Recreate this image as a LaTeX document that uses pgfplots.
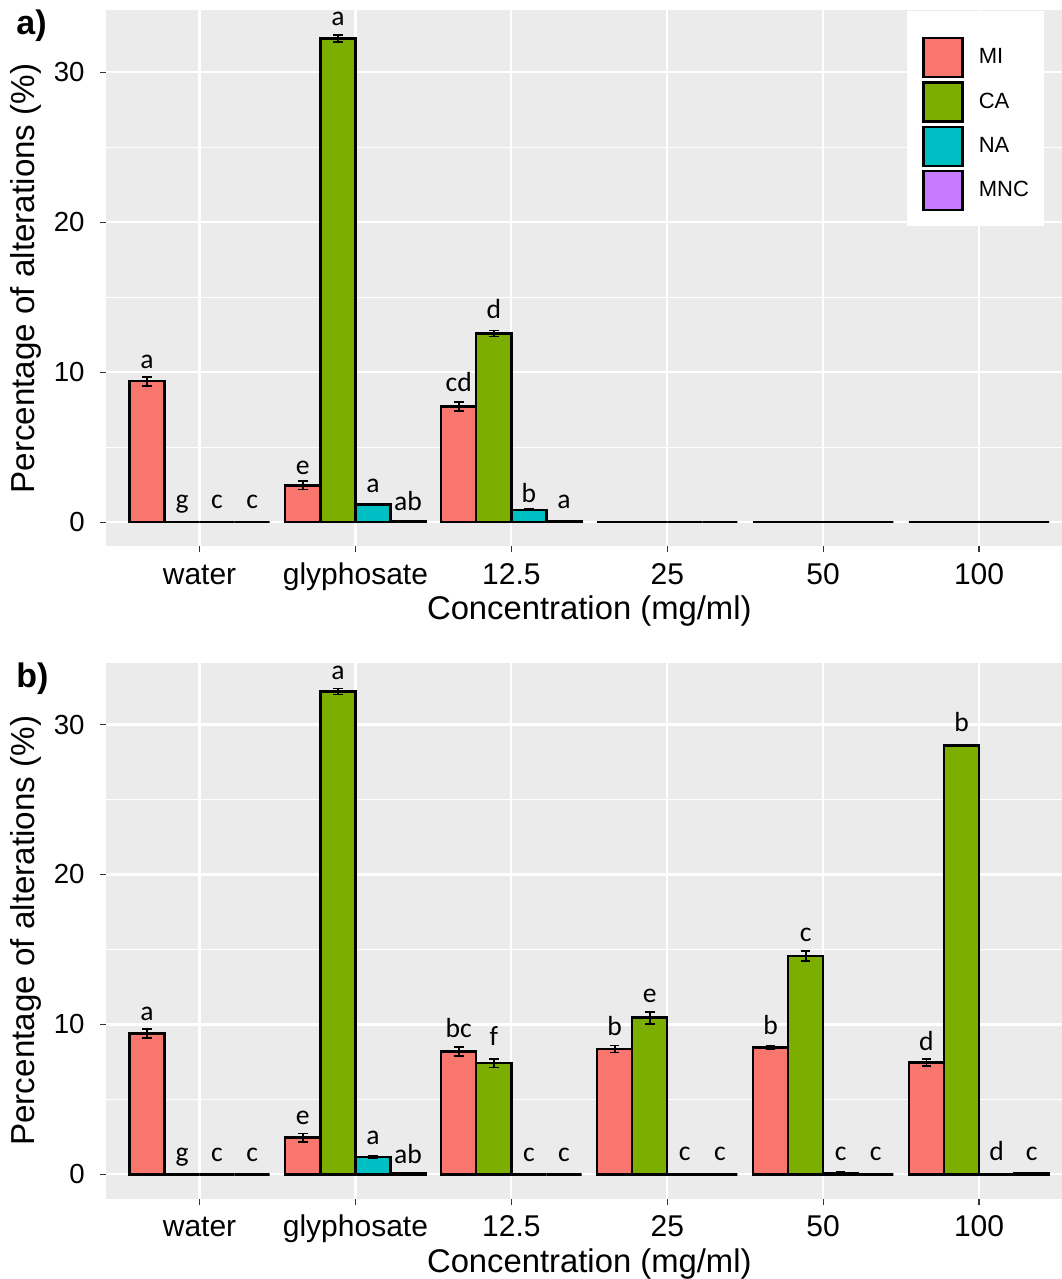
\documentclass[border=0pt]{standalone}
\usepackage{fontspec}
\setmainfont{Liberation Sans}
\newfontfamily\labfont{Carlito}
\usepackage{pgfplots}
\pgfplotsset{compat=1.18}
\usepackage{pgfplotstable}
\definecolor{cMI}{HTML}{F8766D}
\definecolor{cCA}{HTML}{7CAE00}
\definecolor{cNA}{HTML}{00BFC4}
\definecolor{cMNC}{HTML}{C77CFF}
\definecolor{panelbg}{HTML}{EBEBEB}

\pgfplotstableread{
x MI MIe CA CAe NA NAe MNC MNCe
1 9.40 0.30 0     0    0    0    0    0
2 2.45 0.28 32.25 0.22 1.17 0.06 0.06 0.04
3 7.72 0.30 12.58 0.20 0.82 0.04 0.06 0.03
4 0    0    0     0    0    0    0    0
5 0    0    0     0    0    0    0    0
6 0    0    0     0    0    0    0    0
}\dataA

\pgfplotstableread{
x MI MIe CA CAe NA NAe MNC MNCe
1 9.40 0.30 0     0    0    0    0    0
2 2.45 0.28 32.20 0.20 1.15 0.06 0.06 0.04
3 8.18 0.30 7.42  0.29 0    0    0    0
4 8.36 0.23 10.45 0.40 0.03 0.02 0    0
5 8.47 0.10 14.58 0.33 0.06 0.12 0    0
6 7.45 0.25 28.60 0.06 0    0    0.05 0.03
}\dataB

\pgfplotstableread{
x y lab
0.6625 10.26 a
0.8875 0.90 g
1.1125 0.90 c
1.3375 0.90 c
1.6625 3.20 e
1.8875 33.10 a
2.1125 2.00 a
2.3375 0.78 ab
2.6625 8.72 cd
2.8875 13.55 d
3.1125 1.32 b
3.3375 0.88 a
}\labA

\pgfplotstableread{
x y lab
0.6625 10.26 a
0.8875 0.85 g
1.1125 0.85 c
1.3375 0.85 c
1.6625 3.35 e
1.8875 33.00 a
2.1125 1.98 a
2.3375 0.75 ab
2.6625 9.13 bc
2.8875 8.58 f
3.1125 0.87 c
3.3375 0.87 c
3.6625 9.25 b
3.8875 11.47 e
4.1125 0.94 c
4.3375 0.94 c
4.6625 9.33 b
4.8875 15.55 c
5.1125 0.94 c
5.3375 0.94 c
5.6625 8.23 d
5.8875 29.54 b
6.1125 0.94 d
6.3375 0.94 c
}\labB

\pgfplotsset{
  ggpanel/.style={
    scale only axis, width=483.3pt, height=268pt,
    xmin=0.4, xmax=6.6, ymin=-1.625, ymax=34.125,
    clip=false,
    axis background/.style={fill=panelbg},
    axis x line*=bottom, axis y line*=left, axis line style={draw=none},
    xtick={1,2,3,4,5,6}, xticklabels={water,glyphosate,12.5,25,50,100},
    ytick={0,10,20,30}, minor ytick={5,15,25},
    xmajorgrids, ymajorgrids, yminorgrids,
    major grid style={white, line width=1.1pt},
    minor grid style={white, line width=0.55pt},
    tick align=outside, major tick length=3pt, minor tick length=0pt,
    major tick style={black!80, line width=0.6pt},
    /pgf/number format/assume math mode=true,
    yticklabel style={anchor=east, inner sep=0pt, xshift=-7.5pt, font=\fontsize{13.8}{16}\selectfont},
    xticklabel style={anchor=base, inner sep=0pt, yshift=-16pt, font=\fontsize{15}{18}\selectfont},
    xlabel={Concentration (mg/ml)},
    ylabel={Percentage of alterations (\%)},
    every axis x label/.style={at={(axis description cs:0.5,0)}, anchor=base, yshift=-36.75pt, inner sep=0pt, font=\fontsize{16.4}{19}\selectfont},
    every axis y label/.style={at={(axis description cs:-0.0735,0.5)}, rotate=90, anchor=base, inner sep=0pt, font=\fontsize{16.6}{19}\selectfont},
    every axis title/.style={at={(axis description cs:-0.0931,1)}, anchor=base west, yshift=-12.25pt, inner sep=0pt, font=\fontsize{17}{20}\selectfont\bfseries},
  },
  ggbar/.style={ybar, bar width=0.225, bar shift=0, draw=black, line width=1.2pt,
    /pgfplots/error bars/y dir=both, /pgfplots/error bars/y explicit,
    /pgfplots/error bars/error bar style={black, line width=0.9pt},
    /pgfplots/error bars/error mark options={rotate=90, black, mark size=2.4pt, line width=0.9pt}},
  gglab/.style={draw=none, forget plot, nodes near coords, point meta=explicit symbolic,
    every node near coord/.append style={anchor=base, inner sep=0pt, text=black, font=\labfont\fontsize{13.8}{16}\selectfont}},
}

\begin{document}
\begin{tikzpicture}
\useasboundingbox (0,0) rectangle (530.5pt,639.5pt);
\begin{axis}[ggpanel, at={(53pt,366.25pt)}, anchor=south west, title={a)},
  legend style={at={(axis description cs:0.8287,1)}, anchor=north west, draw=none, fill=white,
    inner xsep=7.5pt, inner ysep=7.5pt, row sep=1.5pt, column sep=7.5pt,
    nodes={inner sep=0pt, font=\fontsize{11}{13}\selectfont}, cells={anchor=west}},
  legend image code/.code={\draw[#1, line width=1.2pt] (0pt,-9.75pt) rectangle (19.5pt,9.75pt);},
]
\addlegendimage{empty legend}\addlegendentry{\rule{0pt}{2.5pt}}
\addplot[ggbar, fill=cMI] table[x expr=\thisrow{x}-0.3375, y=MI, y error=MIe] {\dataA};
\addlegendentry{MI}
\addplot[ggbar, fill=cCA] table[x expr=\thisrow{x}-0.1125, y=CA, y error=CAe] {\dataA};
\addlegendentry{CA}
\addplot[ggbar, fill=cNA] table[x expr=\thisrow{x}+0.1125, y=NA, y error=NAe] {\dataA};
\addlegendentry{NA}
\addplot[ggbar, fill=cMNC] table[x expr=\thisrow{x}+0.3375, y=MNC, y error=MNCe] {\dataA};
\addlegendentry{MNC}
\addplot[gglab] table[x=x, y=y, meta=lab] {\labA};
\end{axis}
\begin{axis}[ggpanel, at={(53pt,40.15pt)}, anchor=south west, title={b)}]
\addplot[ggbar, fill=cMI] table[x expr=\thisrow{x}-0.3375, y=MI, y error=MIe] {\dataB};
\addplot[ggbar, fill=cCA] table[x expr=\thisrow{x}-0.1125, y=CA, y error=CAe] {\dataB};
\addplot[ggbar, fill=cNA] table[x expr=\thisrow{x}+0.1125, y=NA, y error=NAe] {\dataB};
\addplot[ggbar, fill=cMNC] table[x expr=\thisrow{x}+0.3375, y=MNC, y error=MNCe] {\dataB};
\addplot[gglab] table[x=x, y=y, meta=lab] {\labB};
\end{axis}
\end{tikzpicture}
\end{document}
